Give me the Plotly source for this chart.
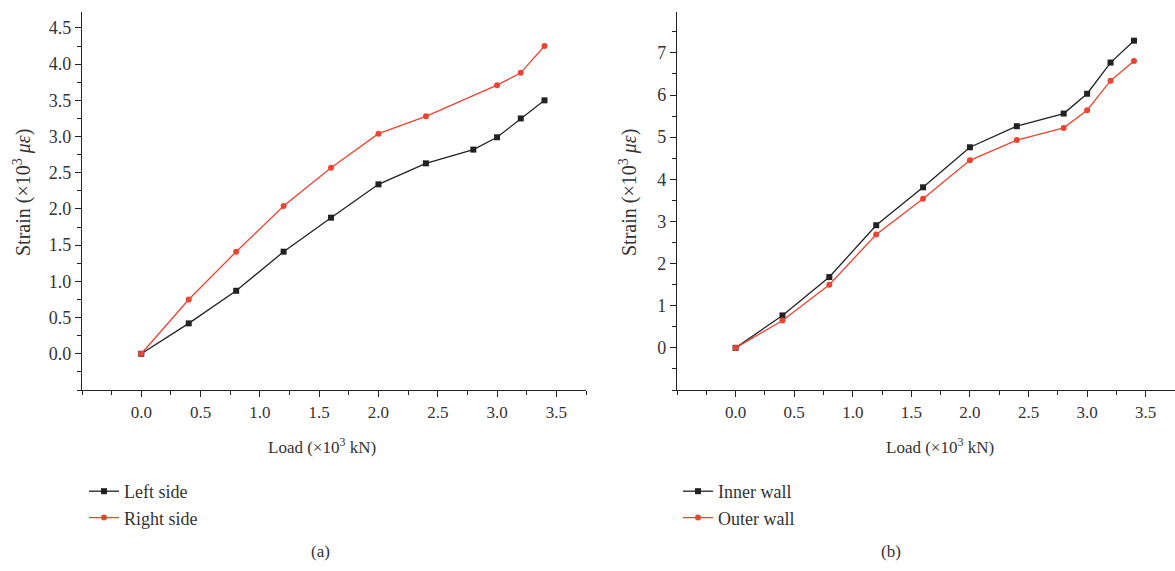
import plotly.graph_objects as go

# Load steps (×10^3 kN)
load_a_left = [0, 0.4, 0.8, 1.2, 1.6, 2.0, 2.4, 2.8, 3.0, 3.2, 3.4]
load_a_right = [0, 0.4, 0.8, 1.2, 1.6, 2.0, 2.4, 3.0, 3.2, 3.4]
load_b = [0, 0.4, 0.8, 1.2, 1.6, 2.0, 2.4, 2.8, 3.0, 3.2, 3.4]

# Strain (×10^3 με)
strain_left = [0, 0.42, 0.87, 1.41, 1.88, 2.34, 2.63, 2.82, 2.99, 3.25, 3.50]
strain_right = [0, 0.75, 1.41, 2.04, 2.57, 3.04, 3.28, 3.71, 3.88, 4.25]
strain_inner = [0, 0.77, 1.68, 2.91, 3.81, 4.76, 5.26, 5.56, 6.03, 6.77, 7.29]
strain_outer = [0, 0.65, 1.50, 2.69, 3.54, 4.45, 4.93, 5.22, 5.64, 6.34, 6.81]

x_ticks = [0.0, 0.5, 1.0, 1.5, 2.0, 2.5, 3.0, 3.5]
y_ticks_a = [0.0, 0.5, 1.0, 1.5, 2.0, 2.5, 3.0, 3.5, 4.0, 4.5]
y_ticks_b = [0, 1, 2, 3, 4, 5, 6, 7]

BLACK = "#222222"
RED = "#ee4330"
TEXT = "#333333"
FONT = "Liberation Serif"
W, H = 1175, 571

fig = go.Figure()

fig.add_trace(go.Scatter(x=load_a_left, y=strain_left, name="Left side", mode="lines+markers",
                         line=dict(color=BLACK, width=1.3), marker=dict(symbol="square", size=6, color=BLACK),
                         xaxis="x", yaxis="y", legend="legend"))
fig.add_trace(go.Scatter(x=load_a_right, y=strain_right, name="Right side", mode="lines+markers",
                         line=dict(color=RED, width=1.3), marker=dict(symbol="circle", size=6, color=RED),
                         xaxis="x", yaxis="y", legend="legend"))
fig.add_trace(go.Scatter(x=load_b, y=strain_inner, name="Inner wall", mode="lines+markers",
                         line=dict(color=BLACK, width=1.3), marker=dict(symbol="square", size=6, color=BLACK),
                         xaxis="x2", yaxis="y2", legend="legend2"))
fig.add_trace(go.Scatter(x=load_b, y=strain_outer, name="Outer wall", mode="lines+markers",
                         line=dict(color=RED, width=1.3), marker=dict(symbol="circle", size=6, color=RED),
                         xaxis="x2", yaxis="y2", legend="legend2"))


def px_x(p):
    return p / W


def px_y(p):
    return 1 - p / H


ydom = [px_y(390), px_y(12)]

common_axis = dict(
    showline=True, linecolor=BLACK, linewidth=1.3, showgrid=False, zeroline=False,
    ticks="outside", ticklen=6, tickwidth=1.2, tickcolor=BLACK,
    automargin=False, fixedrange=True,
)
xtick_font = dict(family=FONT, size=17, color=TEXT)
ytick_font = dict(family=FONT, size=18, color=TEXT)

fig.update_layout(
    width=W, height=H,
    margin=dict(l=0, r=0, t=0, b=0),
    paper_bgcolor="white", plot_bgcolor="white",
    font=dict(family=FONT, color=TEXT),
    xaxis=dict(domain=[px_x(82), px_x(586)], range=[-0.5, 3.75], tickvals=x_ticks,
               ticktext=[f"{v:.1f}" for v in x_ticks], anchor="y", tickfont=xtick_font,
               minor=dict(dtick=0.25, tick0=0, ticks="outside", ticklen=4, tickcolor=BLACK),
               **common_axis),
    yaxis=dict(domain=ydom, range=[-0.5, 4.72], tickvals=y_ticks_a,
               ticktext=[f"{v:.1f}" for v in y_ticks_a], anchor="x", tickfont=ytick_font,
               minor=dict(dtick=0.25, tick0=0, ticks="outside", ticklen=4, tickcolor=BLACK),
               **common_axis),
    xaxis2=dict(domain=[px_x(677), 1.0], range=[-0.5, 3.75], tickvals=x_ticks,
                ticktext=[f"{v:.1f}" for v in x_ticks], anchor="y2", tickfont=xtick_font,
                minor=dict(dtick=0.25, tick0=0, ticks="outside", ticklen=4, tickcolor=BLACK),
                **common_axis),
    yaxis2=dict(domain=ydom, range=[-1, 7.97], tickvals=y_ticks_b,
                ticktext=[str(v) for v in y_ticks_b], anchor="x2", tickfont=ytick_font,
                minor=dict(dtick=0.5, tick0=0, ticks="outside", ticklen=4, tickcolor=BLACK),
                **common_axis),
    legend=dict(x=px_x(84), y=px_y(473), xanchor="left", yanchor="top",
                font=dict(family=FONT, size=18, color=TEXT), bgcolor="rgba(0,0,0,0)",
                tracegroupgap=0, itemwidth=30),
    legend2=dict(x=px_x(678), y=px_y(473), xanchor="left", yanchor="top",
                 font=dict(family=FONT, size=18, color=TEXT), bgcolor="rgba(0,0,0,0)",
                 tracegroupgap=0, itemwidth=30),
)

title_font = dict(family=FONT, size=17, color=TEXT)
ytitle_font = dict(family=FONT, size=20, color=TEXT)
annotations = [
    dict(text="Load (×10<sup>3</sup> kN)", x=px_x(322), y=px_y(446), xref="paper", yref="paper",
         showarrow=False, font=title_font, xanchor="center", yanchor="middle"),
    dict(text="Load (×10<sup>3</sup> kN)", x=px_x(940), y=px_y(446), xref="paper", yref="paper",
         showarrow=False, font=title_font, xanchor="center", yanchor="middle"),
    dict(text="Strain (×10<sup>3</sup> <i>με</i>)", x=px_x(22), y=px_y(193), xref="paper", yref="paper",
         showarrow=False, font=ytitle_font, textangle=-90, xanchor="center", yanchor="middle"),
    dict(text="Strain (×10<sup>3</sup> <i>με</i>)", x=px_x(628), y=px_y(193), xref="paper", yref="paper",
         showarrow=False, font=ytitle_font, textangle=-90, xanchor="center", yanchor="middle"),
    dict(text="(a)", x=px_x(320), y=px_y(551), xref="paper", yref="paper",
         showarrow=False, font=title_font, xanchor="center", yanchor="middle"),
    dict(text="(b)", x=px_x(891), y=px_y(551), xref="paper", yref="paper",
         showarrow=False, font=title_font, xanchor="center", yanchor="middle"),
]
fig.update_layout(annotations=annotations)

fig.write_html("out.html")
